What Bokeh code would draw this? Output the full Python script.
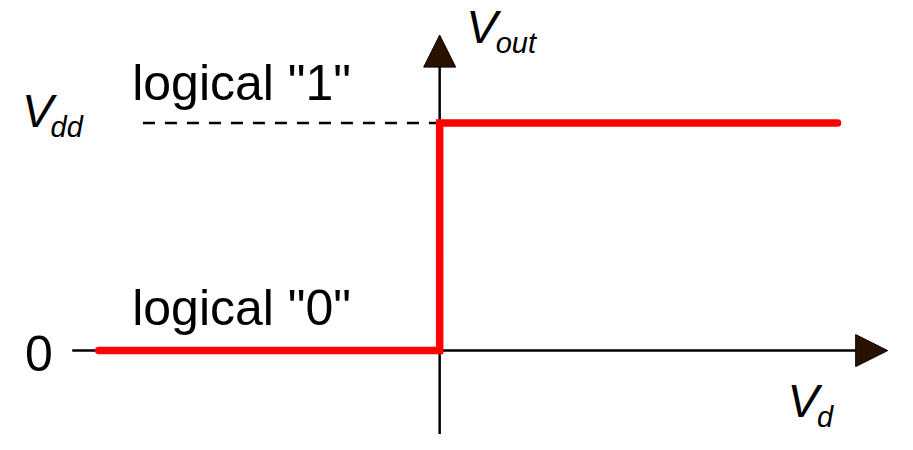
from bokeh.plotting import figure
from bokeh.models import Range1d, Arrow, NormalHead
from bokeh.core.properties import value
from bokeh.embed import file_html
from bokeh.resources import INLINE

# ---- data (x: Vd units, y: Vout units, Vdd = 1) ----
vd_curve = [-3.47, 0.0, 0.0, 4.05]
vout_curve = [0.0, 0.0, 1.0, 1.0]
vdd_level = 1.0
dash_x = [-3.02, 0.0]
dash_y = [vdd_level, vdd_level]

xaxis_start, xaxis_end = -3.74, 4.56
yaxis_start, yaxis_end = -0.40, 1.386

# plain labels
lbl_text = ['logical "1"', 'logical "0"', "0"]
lbl_x = [-3.13, -3.13, -4.22]
lbl_y = [1.175, 0.187, -0.012]

# italic main symbols
sym_text = ["V", "V", "V"]
sym_x = [-4.25, 0.27, 3.54]
sym_y = [1.055, 1.423, -0.220]

# italic subscripts
sub_text = ["dd", "out", "d"]
sub_x = [-3.96, 0.57, 3.84]
sub_y = [0.983, 1.352, -0.292]

p = figure(width=897, height=434, output_backend="svg", toolbar_location=None,
           x_range=Range1d(-4.47, 4.66), y_range=Range1d(-0.3686, 1.5381),
           x_axis_type=None, y_axis_type=None, min_border=0)
p.grid.visible = False
p.outline_line_color = None
p.background_fill_color = "white"
p.border_fill_color = "white"

# axes with arrows (drawn beneath the curve)
head_color = "#2b1200"
p.add_layout(Arrow(end=NormalHead(size=32, fill_color=head_color, line_color="black", line_width=1),
                   x_start=xaxis_start, y_start=0.0, x_end=xaxis_end, y_end=0.0,
                   line_color="black", line_width=2.5, level="underlay"))
p.add_layout(Arrow(end=NormalHead(size=32, fill_color=head_color, line_color="black", line_width=1),
                   x_start=0.0, y_start=yaxis_start, x_end=0.0, y_end=yaxis_end,
                   line_color="black", line_width=2.5, level="underlay"))

# dashed Vdd level
p.line(dash_x, dash_y, line_color="black", line_width=2.5, line_dash="12 10")

# transfer curve
p.line(vd_curve, vout_curve, line_color="#ff0000", line_width=7.5,
       line_cap="round", line_join="miter")

font = value("Liberation Sans")
p.text(x=lbl_x, y=lbl_y, text=lbl_text, text_font=font, text_font_size="50px",
       text_color="black", text_baseline="alphabetic", text_align="left")
p.text(x=sym_x, y=sym_y, text=sym_text, text_font=font, text_font_size="47px",
       text_font_style="italic", text_color="black", text_baseline="alphabetic", text_align="left")
p.text(x=sub_x, y=sub_y, text=sub_text, text_font=font, text_font_size="29px",
       text_font_style="italic", text_color="black", text_baseline="alphabetic", text_align="left")

open("out.html", "w").write(file_html(p, INLINE))
